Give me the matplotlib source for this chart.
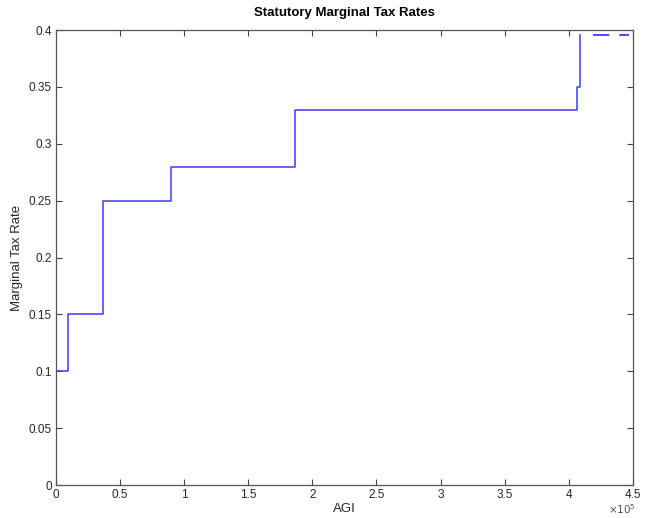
import numpy as np
import matplotlib.pyplot as plt

# bracket thresholds (AGI, dollars) and marginal rates
thresholds = [0, 9075, 36900, 89350, 186350, 406500, 409000]
rates = [0.10, 0.15, 0.25, 0.28, 0.33, 0.35, 0.396]
top_x = [419000, 447000]
top_rate = [0.396, 0.396]

xticks = [0, 50000, 100000, 150000, 200000, 250000, 300000, 350000, 400000, 450000]
xticklabels = ['0', '0.5', '1', '1.5', '2', '2.5', '3', '3.5', '4', '4.5']
yticks = [0, 0.05, 0.1, 0.15, 0.2, 0.25, 0.3, 0.35, 0.4]
yticklabels = ['0', '0.05', '0.1', '0.15', '0.2', '0.25', '0.3', '0.35', '0.4']

plt.rcParams['font.family'] = 'Liberation Sans'

fig = plt.figure(figsize=(6.47, 5.18), dpi=100)
ax = fig.add_axes([0.0866, 0.0637, 0.8914, 0.8783])

# step line; last bracket is only the vertical jump, then dashed top rate
ax.step(thresholds, rates, where='post', color='#3a3aff', lw=1.1)
ax.plot(top_x, top_rate, color='#3a3aff', lw=1.3, dashes=(9, 5.5))

ax.set_xlim(0, 450000)
ax.set_ylim(0, 0.4)
ax.set_xticks(xticks)
ax.set_xticklabels(xticklabels)
ax.set_yticks(yticks)
ax.set_yticklabels(yticklabels)
ax.tick_params(direction='in', top=True, right=True, length=4, width=0.8,
               labelsize=8.5, colors='#444444', labelcolor='#262626', pad=3)
for s in ax.spines.values():
    s.set_color('#555555')
    s.set_linewidth(0.9)

ax.set_title('Statutory Marginal Tax Rates', fontsize=9.5, fontweight='bold', pad=10)
ax.set_xlabel('AGI', fontsize=9.5, labelpad=1, color='#262626')
ax.set_ylabel('Marginal Tax Rate', fontsize=9.5, labelpad=4, color='#262626')
fig.text(0.983, 0.008, r'$\times10^5$', ha='right', va='baseline',
         fontsize=7.5, color='#555555')

fig.savefig('out.png', dpi=100)
